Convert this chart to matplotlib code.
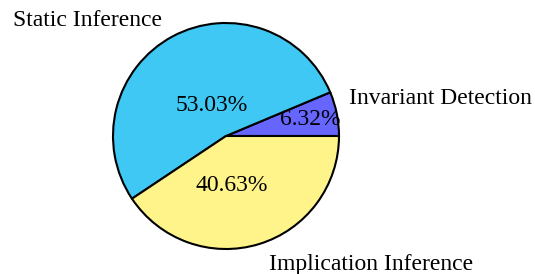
import matplotlib
matplotlib.use("Agg")
import matplotlib.pyplot as plt

# data
labels = ["Invariant Detection", "Static Inference", "Implication Inference"]
shares = [6.32, 53.03, 40.63]
colors = ["#6666ff", "#40c8f4", "#fff48a"]

plt.rcParams['font.family'] = ['Liberation Serif', 'DejaVu Serif']

fig = plt.figure(figsize=(5.35, 2.74), dpi=100)
ax = fig.add_axes([113 / 535, 25 / 274, 226 / 535, 226 / 274])

pct_iter = iter(shares)
wedges, texts, autotexts = ax.pie(
    shares, labels=labels, colors=colors, startangle=0, counterclock=True,
    autopct=lambda p: '%.2f%%' % next(pct_iter), radius=1,
    wedgeprops=dict(edgecolor='black', linewidth=1.5),
    textprops=dict(fontsize=17),
)

# label positions (axes data units, radius = 1)
label_pos = [(1.894, 0.336), (-1.23, 1.025), (1.283, -1.133)]
pct_pos = [(0.743, 0.142), (-0.124, 0.274), (0.053, -0.434)]
for t, p in zip(texts, label_pos):
    t.set_position(p)
    t.set_ha('center')
    t.set_va('center')
for t, p in zip(autotexts, pct_pos):
    t.set_position(p)
    t.set_ha('center')
    t.set_va('center')

ax.set_xlim(-1, 1)
ax.set_ylim(-1, 1)
ax.set_aspect('auto')

fig.savefig("out.png", dpi=100)
